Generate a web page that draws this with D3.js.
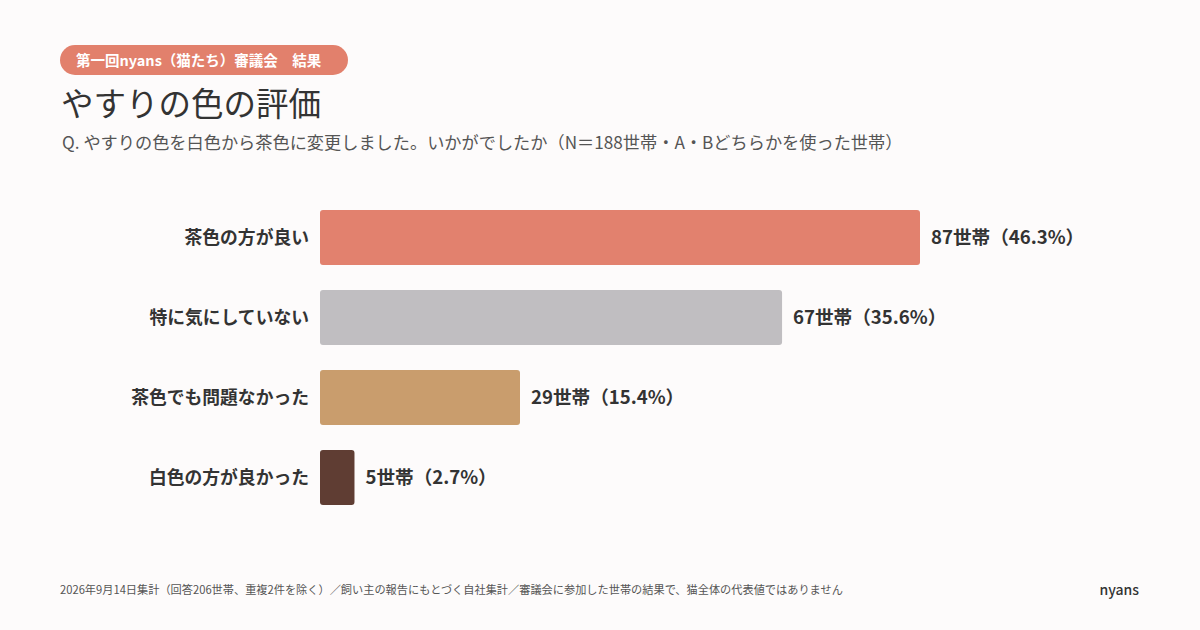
<!DOCTYPE html>
<html><head><meta charset="utf-8">
<script src="https://cdn.jsdelivr.net/npm/d3@7"></script>
<style>
html,body{margin:0;padding:0;background:#FDFBFB;}
svg{display:block;font-family:"Noto Sans CJK JP","Noto Sans",sans-serif;}
</style></head>
<body>
<svg id="chart" width="1200" height="630"></svg>
<script>
const categories = ["茶色の方が良い","特に気にしていない","茶色でも問題なかった","白色の方が良かった"];
const counts = [87, 67, 29, 5];
const percents = ["46.3","35.6","15.4","2.7"];
const colors = ["#E2816E","#C0BEC1","#C99D6D","#5F3D33"];

const svg = d3.select("#chart");
svg.append("rect").attr("width",1200).attr("height",630).attr("fill","#FDFBFB");

// badge
const badgeText = "第一回nyans（猫たち）審議会　結果";
svg.append("rect").attr("x",60).attr("y",45).attr("width",288).attr("height",30).attr("rx",15).attr("fill","#E2806C");
svg.append("text").attr("x",76).attr("y",66).attr("fill","#fff").attr("font-size",14.5).attr("font-weight",700).text(badgeText);

svg.append("text").attr("x",61).attr("y",116).attr("fill","#333").attr("font-size",32.5).attr("font-weight",400).text("やすりの色の評価");
svg.append("text").attr("x",62).attr("y",149).attr("fill","#555").attr("font-size",17.2).text("Q. やすりの色を白色から茶色に変更しました。いかがでしたか（N＝188世帯・A・Bどちらかを使った世帯）");

const x = d3.scaleLinear().domain([0, d3.max(counts)]).range([320, 920]);
const y = d3.scaleBand().domain(categories).range([197.5, 517.5]).paddingInner(0.3125).paddingOuter(0.15625);

const g = svg.append("g");
categories.forEach((c,i)=>{
  g.append("rect").attr("x",x(0)).attr("y",y(c)).attr("width",x(counts[i])-x(0)).attr("height",y.bandwidth())
   .attr("rx",3).attr("fill",colors[i]);
  g.append("text").attr("x",309).attr("y",y(c)+y.bandwidth()/2).attr("dy","0.36em").attr("text-anchor","end")
   .attr("fill","#333").attr("font-size",17.8).attr("font-weight",700).text(c);
  g.append("text").attr("x",x(counts[i])+11).attr("y",y(c)+y.bandwidth()/2).attr("dy","0.36em")
   .attr("fill","#333").attr("font-size",18.6).attr("font-weight",700).text(counts[i]+"世帯（"+percents[i]+"%）");
});

svg.append("text").attr("x",60).attr("y",594).attr("fill","#555").attr("font-size",11.2)
  .text("2026年9月14日集計（回答206世帯、重複2件を除く）／飼い主の報告にもとづく自社集計／審議会に参加した世帯の結果で、猫全体の代表値ではありません");
svg.append("text").attr("x",1139).attr("y",595).attr("text-anchor","end").attr("fill","#333").attr("font-size",14).attr("font-weight",500).text("nyans");
</script>
</body></html>
